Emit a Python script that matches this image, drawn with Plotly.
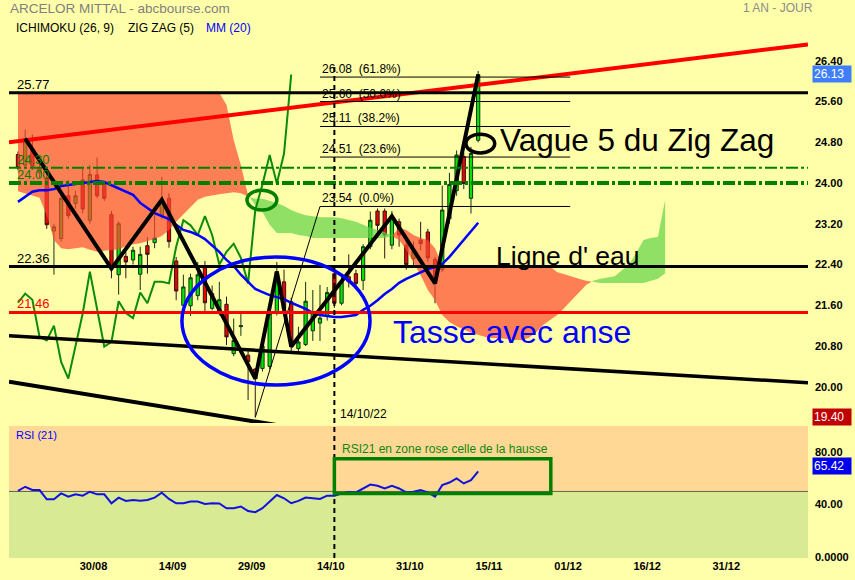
import plotly.graph_objects as go

# ---------------- data (bar index 0..64, one bar per trading day) ----------------
opens  = [24.56, 24.35, 24.65, 24.20, 24.10, 23.06, 22.91, 23.75, 23.60, 24.06,
          23.27, 24.16, 23.98, 23.38, 22.20, 22.56, 22.49, 22.21, 22.77, 22.83,
          23.37, 23.70, 22.47, 21.60, 21.59, 21.79, 22.34, 21.54, 21.47, 21.62,
          20.65, 21.18, 20.62, 20.35, 20.36, 20.40, 21.45, 22.06, 21.67, 20.75,
          20.83, 21.10, 21.25, 21.39, 22.22, 21.64, 22.16, 22.22, 22.09, 22.75,
          23.45, 23.45, 22.78, 23.24, 22.78, 22.52, 22.88, 23.04, 22.50, 22.30,
          23.30, 23.85, 24.52, 23.70, 24.84]
highs  = [24.62, 25.05, 24.95, 24.45, 24.30, 23.20, 23.87, 24.05, 23.85, 24.30,
          24.35, 24.50, 24.05, 23.45, 23.25, 22.65, 22.75, 22.75, 22.94, 23.37,
          24.12, 23.80, 22.55, 22.20, 22.22, 22.45, 22.47, 21.99, 22.06, 21.77,
          21.34, 21.43, 20.75, 20.36, 20.90, 21.50, 22.45, 22.30, 21.75, 21.18,
          22.06, 21.90, 22.00, 21.96, 22.30, 22.20, 22.60, 22.30, 22.80, 23.44,
          23.50, 23.50, 23.45, 23.30, 22.91, 22.85, 23.24, 23.10, 22.55, 23.95,
          24.20, 24.64, 24.60, 24.71, 26.20]
lows   = [24.25, 24.28, 24.25, 24.10, 23.10, 22.20, 22.85, 23.30, 23.50, 23.40,
          23.20, 23.70, 23.65, 22.13, 21.81, 22.13, 22.40, 21.90, 22.22, 22.72,
          23.30, 22.73, 21.70, 21.55, 21.39, 21.70, 21.44, 21.50, 21.40, 20.82,
          20.60, 21.00, 19.74, 19.40, 20.30, 20.35, 21.40, 21.45, 20.70, 20.65,
          20.80, 20.90, 20.90, 21.30, 21.55, 21.60, 21.95, 21.95, 21.90, 22.70,
          22.98, 22.52, 22.70, 22.75, 22.30, 22.35, 22.68, 22.45, 21.64, 22.25,
          23.20, 23.75, 23.88, 23.40, 24.80]
closes = [24.30, 24.87, 24.33, 24.30, 23.18, 23.14, 23.70, 23.36, 23.75, 23.49,
          24.17, 23.75, 23.70, 22.32, 23.20, 22.45, 22.68, 22.60, 22.60, 22.92,
          23.67, 22.85, 21.88, 21.96, 22.14, 22.20, 21.65, 21.83, 21.71, 20.98,
          20.91, 21.20, 20.49, 20.16, 20.80, 21.44, 22.26, 21.54, 20.79, 20.88,
          21.68, 21.45, 21.35, 21.85, 21.64, 22.06, 22.06, 22.03, 22.75, 23.27,
          23.17, 22.98, 23.35, 22.98, 22.40, 22.65, 22.81, 22.53, 22.03, 23.47,
          23.97, 24.55, 23.99, 24.58, 26.13]
ma20   = [23.63, 23.73, 23.83, 23.86, 23.86, 23.88, 23.94, 23.96, 23.98, 24.00,
          24.02, 24.04, 24.02, 23.96, 23.90, 23.84, 23.77, 23.61, 23.51, 23.41,
          23.35, 23.29, 23.18, 23.08, 23.04, 22.98, 22.90, 22.78, 22.65, 22.49,
          22.37, 22.20, 22.06, 21.92, 21.86, 21.80, 21.76, 21.72, 21.65, 21.59,
          21.53, 21.45, 21.41, 21.39, 21.37, 21.37, 21.39, 21.41, 21.51, 21.59,
          21.70, 21.82, 21.92, 22.04, 22.12, 22.18, 22.25, 22.31, 22.35, 22.41,
          22.55, 22.72, 22.88, 23.06, 23.22]
rsi21  = [50.5, 53.6, 51.1, 51.1, 44.0, 44.0, 48.5, 46.0, 47.8, 46.8,
          49.8, 47.8, 47.8, 41.0, 45.3, 42.8, 43.5, 43.0, 43.5, 45.3,
          49.0, 44.3, 41.0, 41.0, 42.3, 42.3, 40.5, 41.0, 40.8, 37.2,
          37.2, 38.5, 35.0, 34.2, 37.2, 42.3, 47.3, 44.8, 41.0, 42.8,
          45.3, 44.8, 44.3, 46.8, 46.8, 48.5, 49.5, 49.3, 52.5, 55.3,
          54.3, 52.3, 54.3, 52.3, 49.3, 49.8, 51.0, 49.3, 46.0, 54.8,
          56.8, 59.9, 56.1, 58.6, 65.42]
# Ichimoku senkou spans (already shifted 26 bars ahead), bar index 0..90
span_a = [23.84, 23.80, 23.76, 23.71, 23.37, 22.88, 22.72, 22.70, 22.72, 22.74,
          22.69, 22.65, 22.67, 22.69, 22.70, 22.76, 22.80, 22.82, 22.86, 22.90,
          22.96, 23.08, 23.24, 23.39, 23.53, 23.67, 23.73, 23.76, 23.78, 23.80,
          23.82, 23.80, 23.73, 23.69, 23.69, 23.65, 23.61, 23.55, 23.47, 23.41,
          23.37, 23.35, 23.33, 23.33, 23.33, 23.31, 23.27, 23.24, 23.18, 23.12,
          23.08, 23.04, 22.96, 22.88, 22.69, 22.45, 22.19, 21.90, 21.70, 21.41,
          21.27, 21.19, 21.12, 21.06, 21.02, 20.98, 20.96, 20.96, 20.94, 20.92,
          20.92, 20.96, 21.06, 21.21, 21.31, 21.41, 21.55, 21.70, 21.86, 22.00,
          22.08, 22.12, 22.14, 22.17, 22.29, 22.40, 22.63, 22.88, 22.92, 22.94,
          23.67]
span_b = [25.77] * 29 + [25.53, 24.84, 24.35, 23.76, 23.57, 23.43, 23.18, 23.02,
          23.02, 23.02, 22.98, 22.96] + [22.92] * 11 + [22.96, 23.12, 23.08, 22.98,
          22.92, 22.88, 22.72, 22.39] + [22.36] * 15 + [22.25, 22.21, 22.17, 22.12,
          22.08, 22.06] + [22.04] * 7 + [22.08, 22.12, 22.23]

tick_bars   = [11, 22, 33, 44, 55, 66, 77, 88, 99]
tick_labels = ["30/08", "14/09", "29/09", "14/10", "31/10", "15/11", "01/12", "16/12", "31/12"]
price_ticks = [20.0, 20.8, 21.6, 22.4, 23.2, 24.0, 24.8, 25.6, 26.4]
rsi_ticks   = [0, 40, 80]
rsi_tick_labels = ["0.0000", "40.00", "80.00"]

zigzag_bars = [1, 13, 20, 33, 36, 38, 52, 58, 64]
fib_values  = [23.54, 24.51, 25.11, 25.60, 26.08]
fib_pcts    = ["0.0%", "23.6%", "38.2%", "50.0%", "61.8%"]
fib_span    = [42, 76.8]

# horizontal levels: value, colour, width, dash, label colour, label
levels = [
    (25.77, "#000000", 3, "solid", "#000000", "25.77"),
    (24.30, "#008000", 2, "12px,3px,3px,3px", "#008000", "24.30"),
    (24.00, "#008000", 4, "12px,3px,3px,3px", "#008000", "24.00"),
    (22.36, "#000000", 3, "solid", "#000000", "22.36"),
    (21.46, "#FF0000", 3, "solid", "#FF0000", "21.46"),
]
# trend lines: (x0, y0, x1, y1, colour, width)
trend_lines = [
    (-1.25, 24.80, 109.87, 26.72, "#FF0000", 4),
    (-1.25, 21.00, 109.87, 20.08, "#000000", 3.5),
    (-1.25, 20.10, 109.87, 17.56, "#000000", 4),
]

FONT = "Arial, 'Liberation Sans', sans-serif"
BG = "#FFFFAA"
n = len(closes)
bars = list(range(n))

fig = go.Figure()

# candles
fig.add_trace(go.Candlestick(
    x=bars, open=opens, high=highs, low=lows, close=closes,
    increasing=dict(fillcolor="#00E400", line=dict(color="#143214", width=1)),
    decreasing=dict(fillcolor="#EE0000", line=dict(color="#321414", width=1)),
    whiskerwidth=0, hoverinfo="skip", xaxis="x", yaxis="y"))

# ichimoku cloud, split where the spans cross
cloud_x = list(range(len(span_a)))
segs = []
cur = None
flag = None
for i in range(len(cloud_x)):
    f = span_a[i] >= span_b[i]
    if cur is None:
        cur = [[cloud_x[i]], [span_a[i]], [span_b[i]]]
        flag = f
    elif f == flag:
        cur[0].append(cloud_x[i]); cur[1].append(span_a[i]); cur[2].append(span_b[i])
    else:
        d0 = span_a[i - 1] - span_b[i - 1]
        d1 = span_a[i] - span_b[i]
        t = d0 / (d0 - d1)
        xc = cloud_x[i - 1] + t * (cloud_x[i] - cloud_x[i - 1])
        yc = span_a[i - 1] + t * (span_a[i] - span_a[i - 1])
        cur[0].append(xc); cur[1].append(yc); cur[2].append(yc)
        segs.append((flag, cur))
        cur = [[xc, cloud_x[i]], [yc, span_a[i]], [yc, span_b[i]]]
        flag = f
segs.append((flag, cur))
for bull, (xs, ya, yb) in segs:
    col = "rgba(96,211,70,0.7)" if bull else "rgba(255,72,49,0.7)"
    fig.add_trace(go.Scatter(x=xs + xs[::-1], y=ya + yb[::-1], fill="toself",
                             fillcolor=col, mode="lines", line=dict(width=0),
                             hoverinfo="skip", xaxis="x", yaxis="y"))

# chikou span (close shifted 26 bars back)
fig.add_trace(go.Scatter(x=[i - 26 for i in range(26, n)], y=closes[26:], mode="lines",
                         line=dict(color="#0A8C0A", width=2), hoverinfo="skip",
                         xaxis="x", yaxis="y"))
# MM 20
fig.add_trace(go.Scatter(x=bars, y=ma20, mode="lines", line=dict(color="#0000FF", width=2.5),
                         hoverinfo="skip", xaxis="x", yaxis="y"))
# trend lines
for x0, y0, x1, y1, col, w in trend_lines:
    fig.add_trace(go.Scatter(x=[x0, x1], y=[y0, y1], mode="lines",
                             line=dict(color=col, width=w), hoverinfo="skip",
                             xaxis="x", yaxis="y"))
# fib diagonal
fig.add_trace(go.Scatter(x=[zigzag_bars[3], fib_span[0]], y=[lows[zigzag_bars[3]], fib_values[0]],
                         mode="lines", line=dict(color="#000000", width=1),
                         hoverinfo="skip", xaxis="x", yaxis="y"))
# zigzag
fig.add_trace(go.Scatter(x=zigzag_bars, y=[closes[i] for i in zigzag_bars], mode="lines",
                         line=dict(color="#000000", width=4), hoverinfo="skip",
                         xaxis="x", yaxis="y"))
# RSI
fig.add_trace(go.Scatter(x=bars, y=rsi21, mode="lines", line=dict(color="#1010E0", width=2),
                         hoverinfo="skip", xaxis="x", yaxis="y2"))

shapes = []
annotations = []

# RSI background
shapes.append(dict(type="rect", xref="x domain", yref="y2", x0=0, x1=1, y0=50, y1=100,
                   fillcolor="#FFD896", line=dict(width=0), layer="below"))
shapes.append(dict(type="rect", xref="x domain", yref="y2", x0=0, x1=1, y0=-0.8, y1=50,
                   fillcolor="#D9EA94", line=dict(width=0), layer="below"))
shapes.append(dict(type="line", xref="x domain", yref="y2", x0=0, x1=1, y0=50, y1=50,
                   line=dict(color="#66664A", width=1), layer="below"))

for val, col, w, dash, lcol, txt in levels:
    shapes.append(dict(type="line", xref="x domain", yref="y", x0=0, x1=1, y0=val, y1=val,
                       line=dict(color=col, width=w, dash=dash)))
    annotations.append(dict(x=-0.42, y=val, xref="x", yref="y", text=txt, showarrow=False,
                            xanchor="left", yanchor="bottom", yshift=-1,
                            font=dict(family=FONT, size=13, color=lcol)))

for val, pct in zip(fib_values, fib_pcts):
    shapes.append(dict(type="line", xref="x", yref="y", x0=fib_span[0], x1=fib_span[1],
                       y0=val, y1=val, line=dict(color="#000000", width=1)))
    annotations.append(dict(x=fib_span[0], y=val, xref="x", yref="y",
                            text=f"{val:.2f}\u00a0\u00a0({pct})", showarrow=False,
                            xanchor="left", yanchor="bottom", yshift=-1,
                            font=dict(family=FONT, size=12, color="#000000")))

# ellipses
shapes.append(dict(type="circle", xref="x", yref="y", x0=22.8, x1=48.96, y0=20.035, y1=22.548,
                   line=dict(color="#0000FF", width=3.5)))
shapes.append(dict(type="circle", xref="x", yref="y", x0=31.85, x1=36.0, y0=23.47, y1=23.86,
                   line=dict(color="#008000", width=3.5)))
shapes.append(dict(type="circle", xref="x", yref="y", x0=62.3, x1=66.3, y0=24.59, y1=24.96,
                   line=dict(color="#000000", width=3.5)))

# vertical dashed line (14/10)
shapes.append(dict(type="line", xref="x", yref="paper", x0=44, x1=44, y0=0, y1=0.8835,
                   line=dict(color="#000000", width=2, dash="5px,4px")))

# RSI box
shapes.append(dict(type="rect", xref="x", yref="y2", x0=44, x1=74.1, y0=48.5, y1=75,
                   line=dict(color="#008000", width=3.5)))


def px(xp):
    return (xp - 9) / 799.0


def py(yp):
    return (558 - yp) / 558.0


annotations += [
    dict(x=px(8), y=py(8), text="ARCELOR MITTAL - abcbourse.com", font=dict(size=13.5, color="#7F7F7F")),
    dict(x=px(741), y=py(8), text="1 AN - JOUR", font=dict(size=12, color="#8C8C8C")),
    dict(x=px(14), y=py(28), text="ICHIMOKU (26, 9)", font=dict(size=12, color="#000000")),
    dict(x=px(126), y=py(28), text="ZIG ZAG (5)", font=dict(size=12, color="#000000")),
    dict(x=px(204), y=py(28), text="MM (20)", font=dict(size=12, color="#0000FF")),
    dict(x=px(14), y=py(435), text="RSI (21)", font=dict(size=11, color="#0000FF")),
]
for a in annotations[-6:]:
    a.update(xref="paper", yref="paper", xanchor="left", yanchor="middle", showarrow=False)
    a["font"]["family"] = FONT

annotations += [
    dict(x=66.8, y=24.84, xref="x", yref="y", text="Vague 5 du Zig Zag", showarrow=False,
         xanchor="left", yanchor="middle", font=dict(family=FONT, size=31.5, color="#000000")),
    dict(x=66.2, y=22.57, xref="x", yref="y", text="Ligne d' eau", showarrow=False,
         xanchor="left", yanchor="middle", font=dict(family=FONT, size=26.5, color="#000000")),
    dict(x=51.9, y=21.08, xref="x", yref="y", text="Tasse avec anse", showarrow=False,
         xanchor="left", yanchor="middle", font=dict(family=FONT, size=32, color="#0000FF")),
    dict(x=44.5, y=19.47, xref="x", yref="y", text="14/10/22", showarrow=False,
         xanchor="left", yanchor="middle", font=dict(family=FONT, size=12, color="#000000")),
    dict(x=44.8, y=82.5, xref="x", yref="y2", text="RSI21 en zone rose celle de la hausse",
         showarrow=False, xanchor="left", yanchor="middle",
         font=dict(family=FONT, size=12, color="#118811")),
]
# value badges on the right axis
for val, yref, bg, ys in [(closes[-1], "y", "#3F7FFF", 1), (lows[zigzag_bars[3]], "y", "#C00000", 0),
                          (rsi21[-1], "y2", "#0000EE", 5)]:
    annotations.append(dict(x=px(812), y=val, xref="paper", yref=yref, text=f"{val:.2f}",
                            showarrow=False, xanchor="left", yanchor="middle", bgcolor=bg,
                            borderpad=1, width=36, align="left", yshift=ys,
                            font=dict(family=FONT, size=12, color="#FFFFFF")))

tickfont = dict(family=FONT, size=11, color="#000000", weight="bold")
fig.update_layout(
    width=855, height=580,
    margin=dict(l=9, r=47, t=0, b=22, autoexpand=False),
    paper_bgcolor=BG, plot_bgcolor=BG,
    showlegend=False, boxgap=0.35,
    shapes=shapes, annotations=annotations,
    xaxis=dict(range=[-1.25, 109.87], tickvals=[t - 0.5 for t in tick_bars], ticktext=tick_labels,
               showgrid=False, zeroline=False, showline=False, ticks="", anchor="y2",
               rangeslider=dict(visible=False), tickfont=tickfont),
    yaxis=dict(domain=[0.2419, 1], range=[19.289, 27.593], side="right", anchor="x",
               tickvals=price_ticks, ticktext=[f"{v:.2f}" for v in price_ticks],
               showgrid=False, zeroline=False, showline=False, ticks="",
               ticklabelstandoff=6, tickfont=tickfont),
    yaxis2=dict(domain=[0, 0.2366], range=[-0.8, 100], side="right", anchor="x",
                tickvals=rsi_ticks, ticktext=rsi_tick_labels,
                showgrid=False, zeroline=False, showline=False, ticks="",
                ticklabelstandoff=6, tickfont=tickfont),
)

fig.write_html("out.html", config={"displayModeBar": False, "staticPlot": True},
               post_script="document.body.style.margin='0';document.body.style.background='%s';" % BG)
